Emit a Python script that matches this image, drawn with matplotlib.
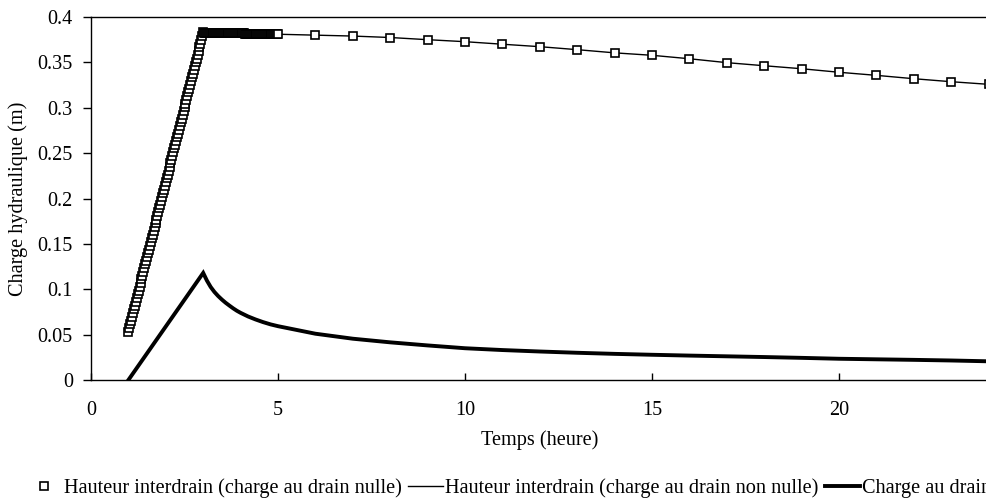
import matplotlib
matplotlib.use("Agg")
import matplotlib.pyplot as plt
from matplotlib.ticker import FuncFormatter, MultipleLocator
from matplotlib.lines import Line2D

# ---------------- data ----------------
# Series 1: Hauteur interdrain (charge au drain nulle) - square markers
s1_t_rise = [1.000, 1.025, 1.050, 1.075, 1.100, 1.125, 1.150, 1.175, 1.200, 1.225,
             1.250, 1.275, 1.300, 1.325, 1.350, 1.375, 1.400, 1.425, 1.450, 1.475,
             1.500, 1.525, 1.550, 1.575, 1.600, 1.625, 1.650, 1.675, 1.700, 1.725,
             1.750, 1.775, 1.800, 1.825, 1.850, 1.875, 1.900, 1.925, 1.950, 1.975,
             2.000, 2.025, 2.050, 2.075, 2.100, 2.125, 2.150, 2.175, 2.200, 2.225,
             2.250, 2.275, 2.300, 2.325, 2.350, 2.375, 2.400, 2.425, 2.450, 2.475,
             2.500, 2.525, 2.550, 2.575, 2.600, 2.625, 2.650, 2.675, 2.700, 2.725,
             2.750, 2.775, 2.800, 2.825, 2.850, 2.875, 2.900, 2.925, 2.950, 2.975,
             3.000]
s1_v_rise = [0.0530, 0.0571, 0.0613, 0.0654, 0.0695, 0.0736, 0.0778, 0.0819, 0.0860, 0.0901,
             0.0943, 0.0984, 0.1025, 0.1066, 0.1108, 0.1149, 0.1190, 0.1231, 0.1273, 0.1314,
             0.1355, 0.1396, 0.1438, 0.1479, 0.1520, 0.1561, 0.1603, 0.1644, 0.1685, 0.1726,
             0.1768, 0.1809, 0.1850, 0.1891, 0.1933, 0.1974, 0.2015, 0.2056, 0.2098, 0.2139,
             0.2180, 0.2221, 0.2263, 0.2304, 0.2345, 0.2386, 0.2428, 0.2469, 0.2510, 0.2551,
             0.2593, 0.2634, 0.2675, 0.2716, 0.2758, 0.2799, 0.2840, 0.2881, 0.2923, 0.2964,
             0.3005, 0.3046, 0.3088, 0.3129, 0.3170, 0.3211, 0.3253, 0.3294, 0.3335, 0.3376,
             0.3418, 0.3459, 0.3500, 0.3541, 0.3583, 0.3624, 0.3665, 0.3706, 0.3748, 0.3789,
             0.3830]
s1_t_plateau = [3.025, 3.050, 3.075, 3.100, 3.125, 3.150, 3.175, 3.200, 3.225, 3.250,
                3.275, 3.300, 3.325, 3.350, 3.375, 3.400, 3.425, 3.450, 3.475, 3.500,
                3.525, 3.550, 3.575, 3.600, 3.625, 3.650, 3.675, 3.700, 3.725, 3.750,
                3.775, 3.800, 3.825, 3.850, 3.875, 3.900, 3.925, 3.950, 3.975, 4.000,
                4.025, 4.050, 4.075, 4.100, 4.125, 4.150, 4.175, 4.200, 4.225, 4.250,
                4.275, 4.300, 4.325, 4.350, 4.375, 4.400, 4.425, 4.450, 4.475, 4.500,
                4.525, 4.550, 4.575, 4.600, 4.625, 4.650, 4.675, 4.700, 4.725, 4.750,
                4.775, 4.800, 4.825, 4.850, 4.875, 4.900, 4.925, 4.950, 4.975, 5.000]
s1_v_plateau = [0.3829, 0.3829, 0.3829, 0.3829, 0.3828, 0.3828, 0.3828, 0.3828, 0.3827, 0.3827,
                0.3827, 0.3827, 0.3826, 0.3826, 0.3826, 0.3826, 0.3825, 0.3825, 0.3825, 0.3825,
                0.3824, 0.3824, 0.3824, 0.3824, 0.3823, 0.3823, 0.3823, 0.3823, 0.3822, 0.3822,
                0.3822, 0.3822, 0.3821, 0.3821, 0.3821, 0.3821, 0.3820, 0.3820, 0.3820, 0.3820,
                0.3819, 0.3819, 0.3819, 0.3819, 0.3818, 0.3818, 0.3818, 0.3818, 0.3817, 0.3817,
                0.3817, 0.3817, 0.3816, 0.3816, 0.3816, 0.3816, 0.3815, 0.3815, 0.3815, 0.3815,
                0.3814, 0.3814, 0.3814, 0.3814, 0.3813, 0.3813, 0.3813, 0.3813, 0.3812, 0.3812,
                0.3812, 0.3812, 0.3811, 0.3811, 0.3811, 0.3811, 0.3810, 0.3810, 0.3810, 0.3810]
s1_t_hourly = [6, 7, 8, 9, 10, 11, 12, 13, 14, 15, 16, 17, 18, 19, 20, 21, 22, 23, 24]
s1_v_hourly = [0.3800, 0.3790, 0.3774, 0.3750, 0.3728, 0.3700, 0.3673, 0.3640, 0.3605, 0.3578,
               0.3540, 0.3497, 0.3463, 0.3430, 0.3391, 0.3357, 0.3320, 0.3287, 0.3258]

# Series 2: Hauteur interdrain (charge au drain non nulle) - thin line
s2_t = [1, 2, 3, 4, 5, 6, 7, 8, 9, 10, 11, 12, 13, 14, 15, 16, 17, 18, 19, 20, 21, 22, 23, 24]
s2_v = [0.0530, 0.2180, 0.3830, 0.3820, 0.3810, 0.3800, 0.3790, 0.3774, 0.3750, 0.3728,
        0.3700, 0.3673, 0.3640, 0.3605, 0.3578, 0.3540, 0.3497, 0.3463, 0.3430, 0.3391,
        0.3357, 0.3320, 0.3287, 0.3258]

# Series 3: Charge au drain - thick line
s3_t = [1, 3, 3.1, 3.2, 3.3, 3.4, 3.5, 3.6, 3.7, 3.8, 3.9, 4.0, 4.2, 4.4, 4.6, 4.8, 5,
        6, 7, 8, 9, 10, 11, 12, 13, 14, 15, 16, 17, 18, 19, 20, 21, 22, 23, 24]
s3_v = [0.0, 0.118, 0.1095, 0.1025, 0.0970, 0.0925, 0.0886, 0.0851, 0.0820, 0.0790,
        0.0763, 0.0740, 0.0700, 0.0667, 0.0638, 0.0613, 0.0593,
        0.0510, 0.0455, 0.0415, 0.0381, 0.0350, 0.0330, 0.0314, 0.0300, 0.0288,
        0.0278, 0.0269, 0.0261, 0.0253, 0.0244, 0.0234, 0.0228, 0.0222, 0.0215, 0.0206]

labels = ["Hauteur interdrain (charge au drain nulle)",
          "Hauteur interdrain (charge au drain non nulle)",
          "Charge au drain"]
x_label = "Temps (heure)"
y_label = "Charge hydraulique (m)"

# ---------------- figure ----------------
FONT = "Liberation Serif"
FS = 14.6
plt.rcParams["font.family"] = [FONT, "DejaVu Serif"]

fig = plt.figure(figsize=(9.86, 5.04), dpi=100)
ax = fig.add_axes([91 / 986, 124 / 504, 897.6 / 986, 363 / 504])

ax.plot(s2_t, s2_v, color="black", lw=1.0, zorder=2)
mk = dict(linestyle="none", marker="s", ms=6.0, mfc="white", mec="black", mew=1.2, zorder=3)
ax.plot(s1_t_rise, s1_v_rise, **mk)
ax.plot(s1_t_plateau, s1_v_plateau, **mk)
ax.plot(s1_t_hourly, s1_v_hourly, **mk)
ax.plot(s3_t, s3_v, color="black", lw=2.8, solid_joinstyle="miter", zorder=4)

ax.set_xlim(0, 24)
ax.set_ylim(0, 0.4)
ax.xaxis.set_major_locator(MultipleLocator(5))
ax.yaxis.set_major_locator(MultipleLocator(0.05))
ax.yaxis.set_major_formatter(FuncFormatter(lambda v, p: "%g" % round(v, 3)))

ax.tick_params(axis="x", direction="in", length=5, width=1, pad=15, labelsize=FS)
ax.tick_params(axis="y", direction="out", length=6, width=1, pad=7, labelsize=FS)
for s in ax.spines.values():
    s.set_linewidth(1.0)
    s.set_color("black")

ax.set_xlabel(x_label, fontsize=FS, va="center")
ax.xaxis.set_label_coords(0.5, (380 - 440) / 363)
ax.set_ylabel(y_label, fontsize=FS, va="center")
ax.yaxis.set_label_coords((18 - 91) / 897.6, 0.5)

handles = [
    Line2D([], [], linestyle="none", marker="s", ms=6.0, mfc="white", mec="black", mew=1.2),
    Line2D([], [], color="black", lw=1.0),
    Line2D([], [], color="black", lw=2.8),
]
fig.legend(handles, labels, loc="center left", bbox_to_anchor=(27 / 986, 16 / 504),
           ncol=3, frameon=False, fontsize=FS, handlelength=1.7, handletextpad=0.1,
           columnspacing=0.35, borderpad=0, borderaxespad=0)

fig.savefig("out.png", dpi=100)
